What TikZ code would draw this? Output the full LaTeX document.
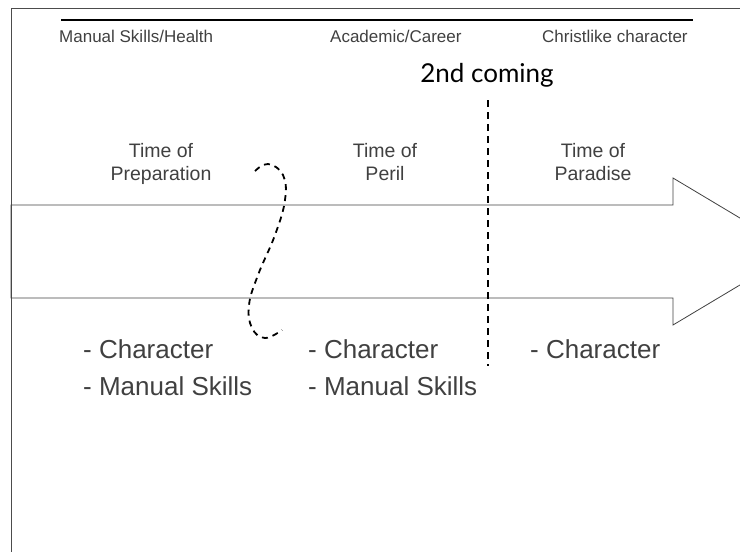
\documentclass[tikz,border=0pt]{standalone}
\usepackage{fontspec}
\setmainfont{Liberation Sans}
\newfontfamily\tulofont{Lato}
\usepackage{tikz}
\usetikzlibrary{positioning}

\begin{document}
\begin{tikzpicture} [x=1pt, y=-1pt, inner sep=0pt, text=black!75,
                    otsikko/.style={font=\fontsize{17}{20}\selectfont, anchor=base west},
                    aika/.style={font=\fontsize{19.5}{23}\selectfont, align=center, anchor=north},
                    lista/.style={font=\fontsize{26}{37}\selectfont, align=left, anchor=base west}]

\clip (0,0) rectangle (740,552);

% frame and arrow
\draw[black!70, line width=1pt] (11,560) -- (11,8.5) -- (760,8.5);
\draw[black!75, line width=0.8pt] (11,205) -- (673,205) -- (673,178) -- (796,251.5)
      -- (673,325) -- (673,298) -- (11,298) -- cycle;
\draw[line width=2pt] (61,20) -- (693,20);

\node[otsikko] (h1) at (59,42) {Manual Skills/Health};
\node[otsikko] (h2) at (330,42) {Academic/Career};
\node[otsikko] (h3) at (542,42) {Christlike character};

\node[anchor=base, font=\tulofont\fontsize{26}{30}\selectfont, text=black] (tulo) at (487,82) {2nd coming};

\node[aika] (t1) at (161,143) {Time of\\Preparation};
\node[aika] (t2) at (385,143) {Time of\\Peril};
\node[aika] (t3) at (593,143) {Time of\\Paradise};

\node[lista] (l1) at (83,395) {- Character\\- Manual Skills};
\node[lista] (l2) at (308,395) {- Character\\- Manual Skills};
\node[lista] (l3) at (530,358) {- Character};

\coordinate (d1) at (488,100);
\coordinate (d2) at (488,366);
\draw[line width=2pt, dash pattern=on 7pt off 5pt] (d1) -- (d2);

\draw[line width=1.8pt, dash pattern=on 6pt off 5pt] plot[smooth, tension=0.7] coordinates
  {(255,171) (268,164) (283,175) (285,200) (275,235) (258,275) (249,305) (252,328) (265,338) (282,330)};
\end{tikzpicture}
\end{document}
